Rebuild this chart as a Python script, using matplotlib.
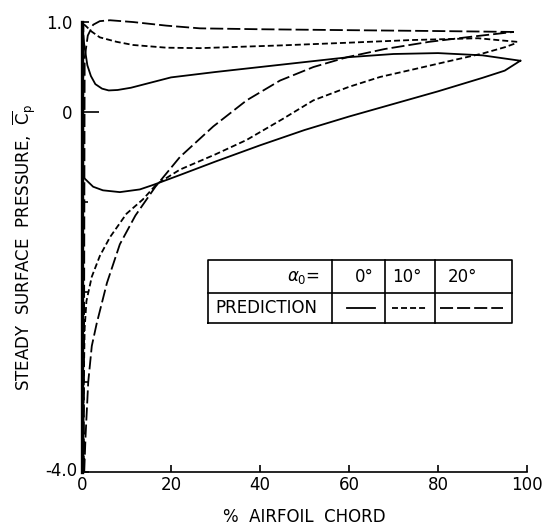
import matplotlib
matplotlib.use('Agg')
import numpy as np
from matplotlib import pyplot as plt
from matplotlib import transforms

plt.rcParams['font.family'] = 'DejaVu Sans'
plt.rcParams['lines.scale_dashes'] = False

# steady surface pressure, % chord vs Cp; each case has an upper and lower branch
x_0_upper = [0.0, 0.5, 1.2, 2.0, 3.0, 4.5, 6.0, 8.0, 11.0, 20.0, 30.0, 40.0, 50.0, 60.0, 70.0, 80.0, 90.0, 98.5]
cp_0_upper = [0.98, 0.75, 0.52, 0.40, 0.31, 0.26, 0.24, 0.245, 0.27, 0.385, 0.445, 0.50, 0.555, 0.61, 0.645, 0.655, 0.63, 0.57]
x_0_lower = [0.0, 0.2, 2.5, 4.7, 8.5, 13.0, 16.0, 22.0, 30.0, 40.0, 50.0, 60.0, 70.0, 80.0, 90.0, 95.0, 98.5]
cp_0_lower = [-0.40, -0.72, -0.83, -0.87, -0.89, -0.86, -0.81, -0.70, -0.55, -0.37, -0.20, -0.05, 0.09, 0.23, 0.38, 0.46, 0.57]

x_10_upper = [0.3, 1.0, 2.0, 4.0, 7.8, 11.5, 19.0, 26.5, 44.5, 59.6, 74.0, 89.0, 97.8]
cp_10_upper = [0.98, 0.95, 0.90, 0.83, 0.78, 0.745, 0.715, 0.71, 0.74, 0.77, 0.80, 0.82, 0.78]
x_10_lower = [0.2, 0.4, 0.6, 1.0, 2.2, 4.0, 6.3, 10.0, 13.7, 16.8, 22.0, 30.0, 37.0, 45.0, 52.0, 60.0, 67.0, 75.0, 82.0, 90.0, 95.0, 97.8]
cp_10_lower = [-4.0, -3.0, -2.4, -2.1, -1.83, -1.60, -1.39, -1.13, -0.97, -0.80, -0.64, -0.47, -0.31, -0.08, 0.13, 0.28, 0.39, 0.48, 0.56, 0.65, 0.72, 0.77]

x_20_upper = [0.4, 0.6, 1.3, 2.5, 4.0, 6.3, 11.5, 19.0, 26.5, 40.0, 59.6, 80.0, 97.0]
cp_20_upper = [-4.0, 0.60, 0.85, 0.97, 1.01, 1.02, 1.00, 0.96, 0.93, 0.92, 0.91, 0.90, 0.89]
x_20_lower = [0.5, 0.8, 1.4, 2.2, 3.3, 5.6, 8.5, 12.0, 16.5, 22.0, 29.5, 37.0, 44.5, 52.0, 59.6, 68.0, 78.0, 88.0, 97.0]
cp_20_lower = [-4.0, -3.6, -3.0, -2.6, -2.35, -1.90, -1.47, -1.15, -0.83, -0.50, -0.16, 0.13, 0.35, 0.50, 0.61, 0.70, 0.78, 0.84, 0.89]

cases = ['0°', '10°', '20°']
dash_styles = [None, (4.3, 2.2), (9.4, 2.9)]


def loop(xu, cu, xl, cl):
    # trailing edge -> leading edge along the upper branch, then back along the lower one
    return (np.concatenate([xu[::-1], xl]), np.concatenate([cu[::-1], cl]))


curves = [loop(x_0_upper, cp_0_upper, x_0_lower, cp_0_lower),
          loop(x_10_upper, cp_10_upper, x_10_lower, cp_10_lower),
          loop(x_20_upper, cp_20_upper, x_20_lower, cp_20_lower)]

fig = plt.figure(figsize=(5.42, 5.25), dpi=100)
ax = fig.add_axes([0.1513, 0.101, 0.821, 0.857])

for (xs, cs), d in zip(curves, dash_styles):
    line, = ax.plot(xs, cs, color='black', linewidth=1.3, clip_on=False)
    if d is not None:
        line.set_dashes(d)

ax.set_xlim(0, 100)
ax.set_ylim(-4, 1)
ax.spines['top'].set_visible(False)
ax.spines['right'].set_visible(False)
ax.spines['left'].set_linewidth(2.4)
ax.spines['bottom'].set_linewidth(1.2)

ax.set_xticks([0, 20, 40, 60, 80, 100])
ax.set_xticklabels(['0', '20', '40', '60', '80', '100'])
ax.set_yticks([-4, 0, 1])
ax.set_yticklabels(['-4.0', '0', '1.0'])
ax.set_yticks([-3, -2, -1], minor=True)
ax.tick_params(axis='both', which='major', direction='in', length=5, width=1.2,
               labelsize=12, pad=3)
ax.tick_params(axis='y', which='major', pad=7)
ax.tick_params(axis='y', which='minor', direction='in', length=4, width=1.2)
ax.yaxis.get_major_ticks()[1].tick1line.set_markersize(12)

# the -4.0 label sits tucked in against the corner
lab = ax.yaxis.get_major_ticks()[0].label1
lab.set_transform(lab.get_transform() +
                  transforms.ScaledTranslation(5 / 100, 3 / 100, fig.dpi_scale_trans))

ax.set_xlabel('%  AIRFOIL  CHORD', fontsize=12, labelpad=10)
ax.set_ylabel(r'STEADY  SURFACE  PRESSURE,  $\overline{\mathrm{C}}_\mathrm{p}$',
              fontsize=12)
ax.yaxis.set_label_coords(-0.099, 0.5)

# legend drawn as a small ruled table
tx0, tx1 = 0.283, 0.966
ty0, tmid, ty1 = 0.331, 0.398, 0.471
col_x = [0.562, 0.681, 0.793]
kw = dict(transform=ax.transAxes, color='black', linewidth=1.2)
ax.plot([tx0, tx1, tx1, tx0, tx0], [ty0, ty0, ty1, ty1, ty0], **kw)
ax.plot([tx0, tx1], [tmid, tmid], **kw)
for cx in col_x:
    ax.plot([cx, cx], [ty0, ty1], **kw)

ax.text(0.535, 0.434, r'$\alpha_0$=', transform=ax.transAxes, fontsize=12,
        ha='right', va='center')
ax.text(0.300, 0.364, 'PREDICTION', transform=ax.transAxes, fontsize=12,
        ha='left', va='center')
head_x = [0.613, 0.697, 0.822]
sample_x = [(0.596, 0.658), (0.697, 0.775), (0.804, 0.946)]
for label, hx, (sx0, sx1), d in zip(cases, head_x, sample_x, dash_styles):
    ax.text(hx, 0.434, label, transform=ax.transAxes, fontsize=12,
            ha='left', va='center')
    s, = ax.plot([sx0, sx1], [0.364, 0.364], transform=ax.transAxes,
                 color='black', linewidth=1.3)
    if d is not None:
        s.set_dashes(d)

fig.savefig('out.png', dpi=100)
